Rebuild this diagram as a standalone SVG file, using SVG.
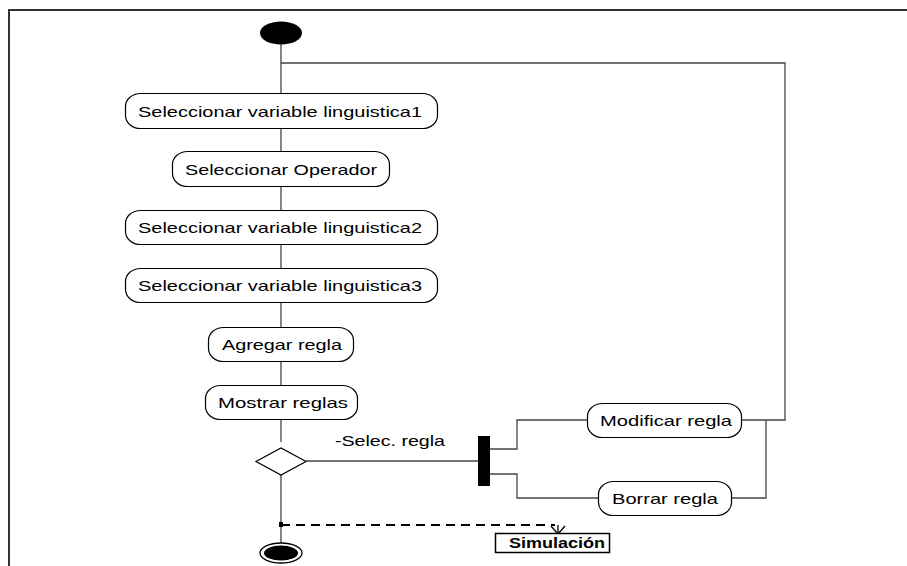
<svg xmlns="http://www.w3.org/2000/svg" width="907" height="566" viewBox="0 0 907 566">
<defs>
<style>
.act{fill:#fff;stroke:#000;stroke-width:1.2}
.t{font-family:"Liberation Sans",Arial,sans-serif;font-size:14.5px;fill:#000;lengthAdjust:spacingAndGlyphs}
.c{fill:none;stroke:#444;stroke-width:1.3}
</style>
<marker id="open" viewBox="0 0 16 10" refX="8" refY="9" markerWidth="16" markerHeight="10" markerUnits="userSpaceOnUse" orient="0">
<path d="M1,1 L8,9 L15,1" fill="none" stroke="#000" stroke-width="1.3"/>
</marker>
</defs>
<rect width="907" height="566" fill="#fff"/>
<path d="M9,566 V10 H907" fill="none" stroke="#333" stroke-width="2"/>
<g id="connectors">
<path class="c" d="M281,44 V93"/>
<path class="c" d="M281,63 H785 V420 H742"/>
<path class="c" d="M281,129 V151"/>
<path class="c" d="M281,187 V210"/>
<path class="c" d="M281,245 V268"/>
<path class="c" d="M281,303 V327"/>
<path class="c" d="M281,362 V385"/>
<path class="c" d="M281,420 V442"/>
<path class="c" d="M306,461 H478"/>
<path class="c" d="M490,449 H517 V420 H587"/>
<path class="c" d="M490,474 H517 V498 H598"/>
<path class="c" d="M732,498 H766 V420"/>
<path class="c" d="M281,475 V543"/>
<path d="M281,525 H555" fill="none" stroke="#000" stroke-width="2.2" stroke-dasharray="9,6"/>
<rect x="279" y="522" width="4" height="5" fill="#000"/>
<path d="M558,525 V534" fill="none" stroke="#000" stroke-width="1.3" marker-end="url(#open)"/>
<text class="t" x="335" y="446" textLength="110" lengthAdjust="spacingAndGlyphs">-Selec. regla</text>
</g>
<g id="start"><ellipse cx="281" cy="33" rx="21" ry="11.5" fill="#000"/></g>
<g id="n1"><rect class="act" x="125.5" y="93.5" width="312" height="35" rx="15" ry="13"/><text class="t" x="138" y="116.5" textLength="284" lengthAdjust="spacingAndGlyphs">Seleccionar variable linguistica1</text></g>
<g id="n2"><rect class="act" x="172.5" y="151.5" width="217" height="35" rx="15" ry="13"/><text class="t" x="185" y="174.5" textLength="192" lengthAdjust="spacingAndGlyphs">Seleccionar Operador</text></g>
<g id="n3"><rect class="act" x="125.5" y="210.5" width="312" height="34" rx="15" ry="13"/><text class="t" x="138" y="233" textLength="284" lengthAdjust="spacingAndGlyphs">Seleccionar variable linguistica2</text></g>
<g id="n4"><rect class="act" x="125.5" y="268.5" width="312" height="34" rx="15" ry="13"/><text class="t" x="138" y="291" textLength="284" lengthAdjust="spacingAndGlyphs">Seleccionar variable linguistica3</text></g>
<g id="n5"><rect class="act" x="208.5" y="327.5" width="145" height="34" rx="15" ry="13"/><text class="t" x="222" y="350" textLength="120" lengthAdjust="spacingAndGlyphs">Agregar regla</text></g>
<g id="n6"><rect class="act" x="205.5" y="385.5" width="152" height="34" rx="15" ry="13"/><text class="t" x="218" y="408" textLength="130" lengthAdjust="spacingAndGlyphs">Mostrar reglas</text></g>
<g id="decision"><polygon points="256,461.5 281,448 306,461.5 281,475" fill="#fff" stroke="#000" stroke-width="1.2"/></g>
<g id="fork"><rect x="478" y="436" width="12" height="50" fill="#000"/></g>
<g id="n7"><rect class="act" x="587.5" y="403.5" width="154" height="34" rx="15" ry="13"/><text class="t" x="600" y="426" textLength="132" lengthAdjust="spacingAndGlyphs">Modificar regla</text></g>
<g id="n8"><rect class="act" x="598.5" y="481.5" width="133" height="34" rx="15" ry="13"/><text class="t" x="612" y="504" textLength="106" lengthAdjust="spacingAndGlyphs">Borrar regla</text></g>
<g id="end"><ellipse cx="281" cy="553" rx="21" ry="10" fill="#fff" stroke="#000" stroke-width="1.3"/><ellipse cx="281" cy="553" rx="17" ry="7.5" fill="#000"/></g>
<g id="sim"><rect x="495.5" y="533.5" width="114" height="19" fill="#fff" stroke="#000" stroke-width="1.5"/><text x="509" y="548" textLength="96" lengthAdjust="spacingAndGlyphs" style="font-family:'Liberation Sans',Arial,sans-serif;font-size:14px;font-weight:bold">Simulación</text></g>
</svg>
